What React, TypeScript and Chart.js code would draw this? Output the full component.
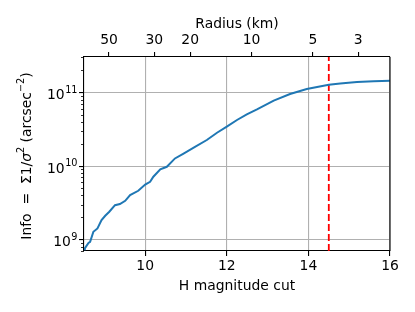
import React, { useEffect, useRef } from "react";
import { Chart, registerables } from "chart.js";

Chart.register(...registerables);

// H magnitude cut values
const hCut: number[] = [
  8.5, 8.52, 8.61, 8.65, 8.73, 8.83, 8.93, 9.02, 9.12, 9.26, 9.38, 9.51, 9.63,
  9.83, 10.0, 10.12, 10.2, 10.37, 10.53, 10.73, 10.94, 11.22, 11.51, 11.76,
  12.0, 12.25, 12.49, 12.74, 13.15, 13.55, 13.96, 14.5, 14.78, 15.19, 15.6, 16.0,
];
// Info = sum 1/sigma^2 (arcsec^-2)
const info: number[] = [
  7.4e8, 7.6e8, 9.0e8, 9.3e8, 1.28e9, 1.42e9, 1.84e9, 2.11e9, 2.39e9, 2.94e9,
  3.04e9, 3.37e9, 4.03e9, 4.61e9, 5.6e9, 6.11e9, 7.16e9, 9.02e9, 9.77e9,
  1.27e10, 1.48e10, 1.82e10, 2.26e10, 2.84e10, 3.43e10, 4.23e10, 5.05e10,
  5.89e10, 7.76e10, 9.55e10, 1.117e11, 1.276e11, 1.33e11, 1.39e11, 1.42e11,
  1.445e11,
];
const hCutLine = 14.5;
const xTicks: number[] = [10, 12, 14, 16];
const yTicks: number[] = [1e9, 1e10, 1e11];
const yTickBase = "10";
const yTickExponents: string[] = ["9", "10", "11"];
const radiusTicks: number[] = [50, 30, 20, 10, 5, 3];
const albedo = 0.04;

const xMin = 8.5;
const xMax = 16;
const yMin = 7.0e8;
const yMax = 3.04e11;

const radiusToH = (r: number) =>
  5 * Math.log10(1329 / Math.sqrt(albedo) / (2 * r));

const FONT = "'DejaVu Sans', sans-serif";
const FS = 13.9;
const SUP = 9.7;

export default function App() {
  const ref = useRef<HTMLCanvasElement>(null);
  useEffect(() => {
    if (!ref.current) return;
    const framePlugin = {
      id: "frame",
      afterDraw(chart: any) {
        const { ctx, chartArea } = chart;
        const y = chart.scales.y;
        ctx.save();
        // minor log ticks
        ctx.strokeStyle = "#000";
        ctx.lineWidth = 0.8;
        for (let d = 8; d <= 11; d++) {
          for (let m = 2; m <= 9; m++) {
            const v = m * Math.pow(10, d);
            if (v < yMin || v > yMax) continue;
            const py = Math.round(y.getPixelForValue(v)) + 0.5;
            ctx.beginPath();
            ctx.moveTo(chartArea.left - 3, py);
            ctx.lineTo(chartArea.left, py);
            ctx.stroke();
          }
        }
        // right spine
        ctx.lineWidth = 1.1;
        ctx.beginPath();
        ctx.moveTo(chartArea.right, chartArea.top);
        ctx.lineTo(chartArea.right, chartArea.bottom);
        ctx.stroke();

        // y tick labels 10^n
        ctx.fillStyle = "#000";
        ctx.textBaseline = "alphabetic";
        ctx.textAlign = "left";
        const rightEdge = chartArea.left - 7;
        yTicks.forEach((v, i) => {
          const py = y.getPixelForValue(v);
          ctx.font = `${SUP}px ${FONT}`;
          const ew = ctx.measureText(yTickExponents[i]).width;
          ctx.font = `${FS}px ${FONT}`;
          const bw = ctx.measureText(yTickBase).width;
          const x0 = rightEdge - ew - bw;
          const baseY = py + 6.5;
          ctx.fillText(yTickBase, x0, baseY);
          ctx.font = `${SUP}px ${FONT}`;
          ctx.fillText(yTickExponents[i], x0 + bw + 0.5, baseY - 6.2);
        });

        // y axis title with math-like parts
        const segs: [string, string, number][] = [
          ["Info  =  ", `${FS}px ${FONT}`, 0],
          ["Σ1/", `${FS}px ${FONT}`, 0],
          ["σ", `italic ${FS}px ${FONT}`, 0],
          ["2", `${SUP}px ${FONT}`, -6],
          [" (arcsec", `${FS}px ${FONT}`, 0],
          ["−2", `${SUP}px ${FONT}`, -6],
          [")", `${FS}px ${FONT}`, 0],
        ];
        let total = 0;
        const widths = segs.map(([t, f]) => {
          ctx.font = f;
          const w = ctx.measureText(t).width;
          total += w;
          return w;
        });
        const cy = (chartArea.top + chartArea.bottom) / 2 + 2;
        ctx.translate(27, cy);
        ctx.rotate(-Math.PI / 2);
        ctx.textBaseline = "middle";
        let cx = -total / 2;
        segs.forEach(([t, f, dy], i) => {
          ctx.font = f;
          ctx.fillText(t, cx, dy);
          cx += widths[i];
        });
        ctx.restore();
      },
    };
    const chart = new Chart(ref.current, {
      type: "line",
      data: {
        datasets: [
          {
            data: hCut.map((h, i) => ({ x: h, y: info[i] })),
            borderColor: "#1f77b4",
            borderWidth: 2,
            pointRadius: 0,
            tension: 0,
            xAxisID: "x",
            yAxisID: "y",
          },
          {
            data: [
              { x: hCutLine, y: yMin },
              { x: hCutLine, y: yMax },
            ],
            borderColor: "#ff0000",
            borderWidth: 1.8,
            borderDash: [7, 3],
            pointRadius: 0,
            xAxisID: "x",
            yAxisID: "y",
          },
        ],
      },
      options: {
        animation: false,
        responsive: false,
        maintainAspectRatio: false,
        layout: { padding: { left: 0, right: 25, top: 0, bottom: 0 } },
        plugins: { legend: { display: false }, tooltip: { enabled: false } },
        scales: {
          x: {
            type: "linear",
            position: "bottom",
            min: xMin,
            max: xMax,
            afterBuildTicks: (s: any) => {
              s.ticks = xTicks.map((v) => ({ value: v }));
            },
            afterFit: (s: any) => {
              s.height = 61;
            },
            ticks: {
              color: "#000",
              font: { family: FONT, size: FS },
              padding: 2.3,
              maxRotation: 0,
              callback: (v: any) => String(v),
            },
            grid: {
              color: "#b0b0b0",
              lineWidth: 1.1,
              tickColor: "#000",
              tickLength: 5,
            },
            border: { color: "#000", width: 1.1 },
            title: {
              display: true,
              text: "H magnitude cut",
              color: "#000",
              font: { family: FONT, size: FS },
              padding: { top: 0, bottom: 16.9 },
            },
          },
          x2: {
            type: "linear",
            position: "top",
            min: xMin,
            max: xMax,
            afterBuildTicks: (s: any) => {
              s.ticks = radiusTicks.map((r) => ({ value: radiusToH(r) }));
            },
            afterFit: (s: any) => {
              s.height = 57;
            },
            ticks: {
              color: "#000",
              font: { family: FONT, size: FS },
              padding: 3.6,
              maxRotation: 0,
              callback: (v: any, i: number) => String(radiusTicks[i]),
            },
            grid: {
              display: true,
              drawOnChartArea: false,
              tickColor: "#000",
              tickLength: 5,
              lineWidth: 1.1,
            },
            border: { color: "#000", width: 1.1 },
            title: {
              display: true,
              text: "Radius (km)",
              color: "#000",
              font: { family: FONT, size: FS },
              padding: { top: 16.5, bottom: 0 },
            },
          },
          y: {
            type: "logarithmic",
            position: "left",
            min: yMin,
            max: yMax,
            afterBuildTicks: (s: any) => {
              s.ticks = yTicks.map((v) => ({ value: v, major: true }));
            },
            afterFit: (s: any) => {
              s.width = 84;
            },
            ticks: { display: false },
            grid: {
              color: "#b0b0b0",
              lineWidth: 1.1,
              tickColor: "#000",
              tickLength: 5,
            },
            border: { color: "#000", width: 1.1 },
            title: { display: false },
          },
        },
      },
      plugins: [framePlugin],
    } as any);
    return () => chart.destroy();
  }, []);
  return (
    <div style={{ position: "fixed", left: 0, top: 0, width: 415, height: 312, background: "#fff" }}>
      <canvas ref={ref} width={415} height={312} style={{ display: "block" }} />
    </div>
  );
}
